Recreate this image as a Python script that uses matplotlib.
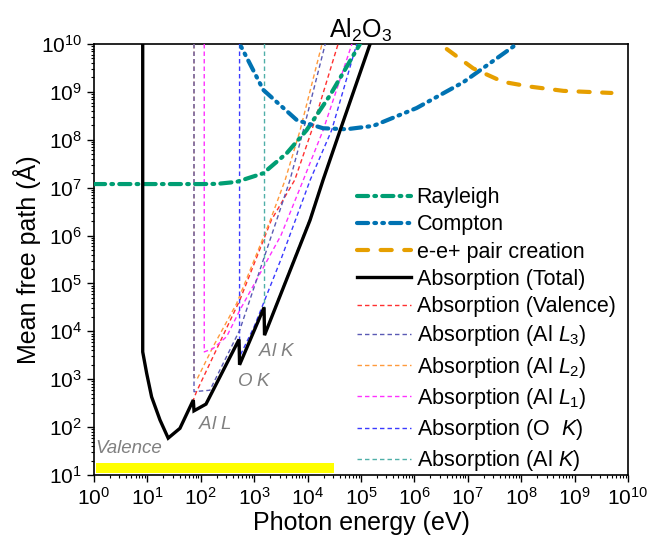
import numpy as np
import matplotlib
matplotlib.use("Agg")
import matplotlib.pyplot as plt
from matplotlib.ticker import LogLocator, NullFormatter

plt.rcParams['font.family'] = ['Liberation Sans', 'DejaVu Sans']
plt.rcParams['mathtext.fontset'] = 'custom'
plt.rcParams['mathtext.rm'] = 'Liberation Sans'
plt.rcParams['mathtext.it'] = 'Liberation Sans:italic'
plt.rcParams['mathtext.bf'] = 'Liberation Sans:bold'
plt.rcParams['lines.scale_dashes'] = False

# ---- data (photon energy in eV, mean free path in Angstrom) ----
tot_E = [8.17, 8.17, 9.7, 12.0, 17.2, 24.5, 40.7, 72.4, 74.6, 125, 520, 532, 1530, 1560,
         11100, 19500, 40700, 148000]
tot_L = [1e11, 3720, 1320, 427, 141, 58.9, 94.4, 368, 219, 302, 6760, 2000, 31600, 8300,
         2.09e6, 1.45e7, 1.58e8, 1.0e10]

ray_E = [1, 10, 100, 200, 468, 1480, 4070, 9550, 26300, 95500]
ray_L = [1.19e7, 1.19e7, 1.19e7, 1.2e7, 1.32e7, 2.0e7, 5.25e7, 1.58e8, 8.5e8, 1.0e10]

com_E = [500, 537, 1480, 6300, 19500, 53700, 170000, 1.1e6, 8.3e6, 8.3e7]
com_L = [2.0e10, 1.0e10, 1.1e9, 2.57e8, 1.74e8, 1.66e8, 1.95e8, 4.6e8, 1.6e9, 1.0e10]

pair_E = [2.5e6, 3.0e6, 1.26e7, 4.57e7, 1.45e8, 6.2e8, 4.9e9]
pair_L = [2.0e10, 1.0e10, 3.1e9, 1.62e9, 1.29e9, 1.05e9, 9.5e8]

val_E = [8.17, 8.17, 9.7, 12.0, 17.2, 24.5, 40.7, 72.4, 83.2, 537, 2090, 5750, 12000, 37200]
val_L = [1e11, 3720, 1320, 427, 141, 58.9, 94.4, 368, 550, 44700, 2.09e6, 1.45e7, 1.58e8, 1.0e10]

l3_E = [74.6, 74.6, 148, 537, 2630, 4680, 8320, 21400]
l3_L = [1e11, 550, 589, 10700, 2.09e6, 1.45e7, 1.58e8, 1.0e10]

l2_E = [74.6, 74.6, 85, 170, 468, 2000, 3800, 7240, 18600]
l2_L = [1e11, 1120, 1000, 4790, 38000, 2.09e6, 1.45e7, 1.58e8, 1.0e10]

l1_E = [116, 116, 170, 305, 537, 3160, 8320, 19500, 67600]
l1_L = [1e11, 3720, 4370, 7760, 27500, 1.0e6, 1.45e7, 1.58e8, 1.0e10]

ok_E = [532, 532, 1000, 3160, 11200, 28200, 83200]
ok_L = [1e11, 2950, 12600, 3.16e5, 1.45e7, 1.58e8, 1.0e10]

alk_E = [1560, 1560, 1600, 11100, 19500, 40700, 148000]
alk_L = [1e11, 17400, 9500, 2.3e6, 1.55e7, 1.7e8, 1.05e10]

bar_E = [1.09, 3.12e4]
bar_L = [11.0, 17.8]

edge_labels = ['Valence', 'Al $\\mathit{L}$', 'O $\\mathit{K}$', 'Al $\\mathit{K}$']
edge_label_E = [1.05, 88, 470, 1170]
edge_label_L = [24, 75, 600, 2500]

xticks = [10.0 ** k for k in range(0, 11)]
yticks = [10.0 ** k for k in range(1, 11)]

# ---- figure ----
fig = plt.figure(figsize=(6.5, 5.5), dpi=100)
ax = fig.add_axes([94 / 650, 75 / 550, 534 / 650, 431 / 550])
ax.set_xscale('log')
ax.set_yscale('log')
ax.set_xlim(1, 1e10)
ax.set_ylim(10, 1e10)

ax.fill_between(bar_E, bar_L[0], bar_L[1], color='#FFFF00', lw=0, zorder=1)

thin = dict(lw=1.0, ls=(0, (3.2, 2.2)))
ax.plot(val_E, val_L, color='#FF3030', label='Absorption (Valence)', zorder=3, **thin)
ax.plot(l2_E, l2_L, color='#FF9A3C', label='Absorption (Al $\\mathit{L}_2$)', zorder=3, **thin)
ax.plot(l3_E, l3_L, color='#5A5AB4', label='Absorption (Al $\\mathit{L}_3$)', zorder=3.1, **thin)
ax.plot(l1_E, l1_L, color='#FF30FF', label='Absorption (Al $\\mathit{L}_1$)', zorder=3, **thin)
ax.plot(ok_E, ok_L, color='#3A3AFF', label='Absorption (O  $\\mathit{K}$)', zorder=3, **thin)
ax.plot(alk_E, alk_L, color='#4FAFA8', label='Absorption (Al $\\mathit{K}$)', zorder=3, **thin)

ax.plot(ray_E, ray_L, color='#009E73', lw=3, ls=(0, (8, 4.5, 1.2, 4.5)),
        dash_capstyle='round', label='Rayleigh', zorder=4)
ax.plot(com_E, com_L, color='#0072B2', lw=3, ls=(0, (8, 4.5, 1.2, 4.5, 1.2, 4.5)),
        dash_capstyle='round', label='Compton', zorder=4)
ax.plot(pair_E, pair_L, color='#E69F00', lw=3, ls=(0, (8, 9)),
        dash_capstyle='round', label='e-e+ pair creation', zorder=4)
ax.plot(tot_E, tot_L, color='black', lw=2.4, label='Absorption (Total)', zorder=5,
        solid_joinstyle='miter')

for s, e, l in zip(edge_labels, edge_label_E, edge_label_L):
    ax.text(e, l, s, color='#808080', fontsize=13.5, style='italic', ha='left', va='bottom')

ax.set_xticks(xticks)
ax.set_yticks(yticks)
ax.xaxis.set_minor_locator(LogLocator(base=10, subs=np.arange(2, 10), numticks=100))
ax.yaxis.set_minor_locator(LogLocator(base=10, subs=np.arange(2, 10), numticks=100))
ax.xaxis.set_minor_formatter(NullFormatter())
ax.yaxis.set_minor_formatter(NullFormatter())
ax.tick_params(which='major', direction='out', length=5, width=1, labelsize=15, top=False, right=False)
ax.tick_params(which='minor', direction='out', length=2.5, width=0.8, top=False, right=False)
for sp in ax.spines.values():
    sp.set_linewidth(1.2)

ax.set_xlabel('Photon energy (eV)', fontsize=18, labelpad=2)
ax.set_ylabel('Mean free path (Å)', fontsize=18, labelpad=0)
ax.set_title('Al$_2$O$_3$', fontsize=18, pad=2)

handles, labels = ax.get_legend_handles_labels()
order = ['Rayleigh', 'Compton', 'e-e+ pair creation', 'Absorption (Total)', 'Absorption (Valence)',
         'Absorption (Al $\\mathit{L}_3$)', 'Absorption (Al $\\mathit{L}_2$)',
         'Absorption (Al $\\mathit{L}_1$)', 'Absorption (O  $\\mathit{K}$)', 'Absorption (Al $\\mathit{K}$)']
hm = dict(zip(labels, handles))
ax.legend([hm[k] for k in order], order, loc='upper left', bbox_to_anchor=(0.492, 0.668),
          frameon=False, fontsize=15.5, handlelength=2.5, handletextpad=0.28, borderpad=0,
          borderaxespad=0, labelspacing=0.29)

fig.savefig('out.png', dpi=100)
